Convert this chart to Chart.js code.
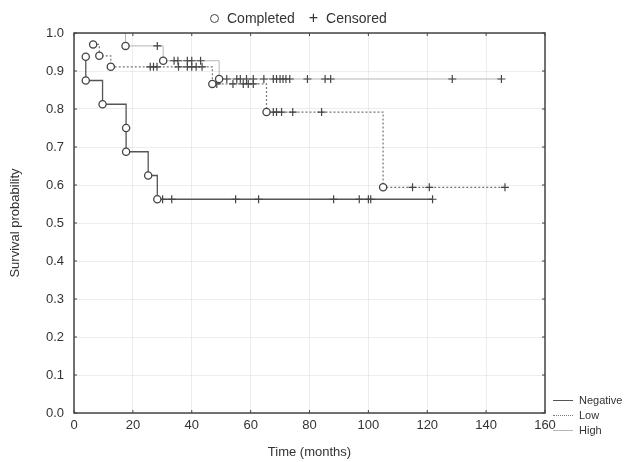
<!DOCTYPE html>
<html lang="en">
<head>
  <meta charset="UTF-8" />
  <title>Survival curves</title>
  <script src="https://cdn.jsdelivr.net/npm/chart.js"></script>
  <style>
    body { margin: 0; background: #fff; font-family: "Liberation Sans", Arial, sans-serif; color: #333; }
    #wrap { position: relative; width: 632px; height: 462px; }
    .topLegend { position: absolute; top: 9px; left: 210px; font-size: 14px; display: flex; align-items: center; }
    .circ { display: inline-block; width: 7px; height: 7px; border: 1.3px solid #444; border-radius: 50%; margin-right: 8px; }
    .plus { font-size: 16px; margin: 0 8px 0 14px; }
    .sideLegend { position: absolute; left: 553px; top: 393px; font-size: 11px; line-height: 15px; }
    .sideLegend div { display: flex; align-items: center; }
    .sideLegend span.ln { display: inline-block; width: 20px; margin-right: 6px; }
  </style>
</head>
<body>
<div id="wrap">
  <canvas id="km" width="632" height="462"></canvas>
  <div class="topLegend"><span class="circ"></span>Completed<span class="plus">+</span>Censored</div>
  <div class="sideLegend">
    <div><span class="ln" style="border-top:1.3px solid #555"></span>Negative</div>
    <div><span class="ln" style="border-top:1.3px dotted #777"></span>Low</div>
    <div><span class="ln" style="border-top:1px solid #b5b5b5"></span>High</div>
  </div>
</div>
<script>
// Negative group
const negEventTimes = [4, 4, 9.7, 17.7, 17.7, 25.2, 28.3];
const negEventSurv = [0.9375, 0.875, 0.8125, 0.75, 0.6875, 0.625, 0.5625];
const negCensorTimes = [30.1, 33.2, 54.9, 62.7, 88.2, 96.9, 100, 100.8, 121.8];
const negCensorSurv = [0.5625, 0.5625, 0.5625, 0.5625, 0.5625, 0.5625, 0.5625, 0.5625, 0.5625];

// Low group
const lowEventTimes = [6.5, 8.6, 12.5, 47, 65.4, 105];
const lowEventSurv = [0.970, 0.940, 0.911, 0.866, 0.792, 0.594];
const lowCensorTimes = [25.9, 27, 28.2, 35.5, 38.5, 40, 41.5, 43.5, 48.5, 54, 57.5, 59.2, 60.9, 67.7, 68.8, 70.5, 74.3, 84.1, 115, 120.7, 146.4];
const lowCensorSurv = [0.911, 0.911, 0.911, 0.911, 0.911, 0.911, 0.911, 0.911, 0.866, 0.866, 0.866, 0.866, 0.866, 0.792, 0.792, 0.792, 0.792, 0.792, 0.594, 0.594, 0.594];

// High group
const highEventTimes = [17.5, 30.3, 49.3];
const highEventSurv = [0.966, 0.927, 0.879];
const highCensorTimes = [28.3, 34, 35.3, 38.5, 40, 43, 51.9, 55.3, 56.5, 58.6, 60.9, 64.5, 67.7, 68.8, 70, 71, 72, 73.3, 79.3, 85.3, 87.2, 128.5, 145.2];
const highCensorSurv = [0.966, 0.927, 0.927, 0.927, 0.927, 0.927, 0.879, 0.879, 0.879, 0.879, 0.879, 0.879, 0.879, 0.879, 0.879, 0.879, 0.879, 0.879, 0.879, 0.879, 0.879, 0.879, 0.879];

const xTicks = [0, 20, 40, 60, 80, 100, 120, 140, 160];
const yTicks = [0, 0.1, 0.2, 0.3, 0.4, 0.5, 0.6, 0.7, 0.8, 0.9, 1.0];

// step curve through the events, optionally from (0, 1), out to the last censored case
function stepPoints(times, surv, censorTimes, fromOrigin) {
  const pts = fromOrigin ? [{ x: 0, y: 1 }] : [];
  times.forEach((t, i) => pts.push({ x: t, y: surv[i] }));
  const end = Math.max(...censorTimes, times[times.length - 1]);
  pts.push({ x: end, y: surv[surv.length - 1] });
  return pts;
}
function pairs(xs, ys) { return xs.map((x, i) => ({ x, y: ys[i] })); }

function lineSet(data, color, width, dash) {
  return { type: 'line', data, borderColor: color, borderWidth: width, borderDash: dash,
    stepped: true, pointRadius: 0, fill: false, order: 3 };
}
function eventSet(data) {
  return { type: 'scatter', data, pointStyle: 'circle', pointRadius: 3.6, borderColor: '#444',
    backgroundColor: '#fff', borderWidth: 1.3, clip: false, order: 1 };
}
function censorSet(data) {
  return { type: 'scatter', data, pointStyle: 'cross', pointRadius: 4, borderColor: '#444',
    borderWidth: 1.2, clip: false, order: 2 };
}

// box frame and inward ticks on all four sides
const frame = {
  id: 'frame',
  afterDraw(chart) {
    const { ctx, chartArea: a, scales } = chart;
    ctx.save();
    ctx.strokeStyle = '#444';
    ctx.lineWidth = 1.5;
    ctx.strokeRect(a.left, a.top, a.right - a.left, a.bottom - a.top);
    ctx.lineWidth = 1;
    xTicks.forEach(v => {
      const px = scales.x.getPixelForValue(v);
      ctx.beginPath();
      ctx.moveTo(px, a.bottom); ctx.lineTo(px, a.bottom - 3);
      ctx.moveTo(px, a.top); ctx.lineTo(px, a.top + 3);
      ctx.stroke();
    });
    yTicks.forEach(v => {
      const py = scales.y.getPixelForValue(v);
      ctx.beginPath();
      ctx.moveTo(a.left, py); ctx.lineTo(a.left + 3, py);
      ctx.moveTo(a.right, py); ctx.lineTo(a.right - 3, py);
      ctx.stroke();
    });
    ctx.restore();
  }
};

new Chart(document.getElementById('km'), {
  data: {
    datasets: [
      lineSet(stepPoints(negEventTimes, negEventSurv, negCensorTimes, false), '#555', 1.3, []),
      lineSet(stepPoints(lowEventTimes, lowEventSurv, lowCensorTimes, false), '#777', 1.2, [2, 2]),
      lineSet(stepPoints(highEventTimes, highEventSurv, highCensorTimes, true), '#b5b5b5', 1, []),
      eventSet(pairs(negEventTimes, negEventSurv)),
      eventSet(pairs(lowEventTimes, lowEventSurv)),
      eventSet(pairs(highEventTimes, highEventSurv)),
      censorSet(pairs(negCensorTimes, negCensorSurv)),
      censorSet(pairs(lowCensorTimes, lowCensorSurv)),
      censorSet(pairs(highCensorTimes, highCensorSurv))
    ]
  },
  options: {
    responsive: false,
    animation: false,
    layout: { padding: { left: 8, right: 87, top: 33, bottom: 0 } },
    plugins: { legend: { display: false }, tooltip: { enabled: false } },
    scales: {
      x: {
        type: 'linear', min: 0, max: 160,
        afterBuildTicks: s => { s.ticks = xTicks.map(v => ({ value: v })); },
        afterFit: s => { s.height = 49; },
        grid: { color: 'rgba(0,0,0,0.07)', drawTicks: false },
        border: { display: false },
        ticks: { padding: 5, color: '#333', autoSkip: false, maxRotation: 0,
          font: { family: 'Liberation Sans', size: 13 } },
        title: { display: true, text: 'Time (months)', color: '#333', padding: { top: 4, bottom: 2 },
          font: { family: 'Liberation Sans', size: 13 } }
      },
      y: {
        type: 'linear', min: 0, max: 1,
        afterBuildTicks: s => { s.ticks = yTicks.map(v => ({ value: v })); },
        afterFit: s => { s.width = 66; },
        grid: { color: 'rgba(0,0,0,0.07)', drawTicks: false },
        border: { display: false },
        ticks: { padding: 10, color: '#333', autoSkip: false, font: { family: 'Liberation Sans', size: 13 },
          callback: v => v.toFixed(1) },
        title: { display: true, text: 'Survival probability', color: '#333', padding: { top: 0, bottom: 2 },
          font: { family: 'Liberation Sans', size: 13 } }
      }
    }
  },
  plugins: [frame]
});
</script>
</body>
</html>
